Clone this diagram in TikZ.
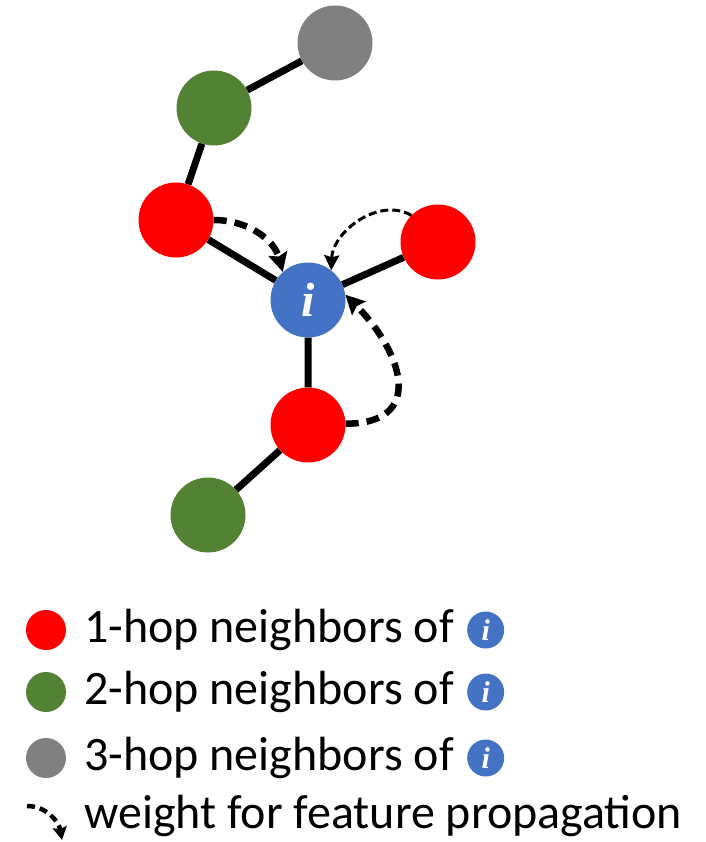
\documentclass[tikz,border=0pt]{standalone}
\usepackage{fontspec}
\setmainfont{Carlito}
\newfontfamily\ifont{Liberation Serif}
\usetikzlibrary{arrows.meta,positioning}

\definecolor{hopone}{HTML}{FF0000}
\definecolor{hoptwo}{HTML}{548235}
\definecolor{hopthree}{HTML}{808080}
\definecolor{center}{HTML}{4472C4}

\pgfmathsetmacro\rad{37.5}

\begin{document}
\begin{tikzpicture}[x=1pt,y=-1pt,
                vertex/.style={circle, inner sep=0pt, minimum size=2*\rad pt},
                edge/.style={line width=7pt},
                weight/.style={line width=6.5pt, dash pattern=on 13pt off 8pt,
                    -{Stealth[length=19pt,width=19pt,inset=3pt]}},
                dot/.style={circle, inner sep=0pt, minimum size=40pt},
                label/.style={anchor=west, inner sep=0pt, font=\fontsize{48}{48}\selectfont}]
                \useasboundingbox (0,0) rectangle (705,842);
                % graph around i
                \node [vertex, fill=center] (i) at (308,300)
                    {\color{white}\ifont\fontsize{48}{48}\selectfont\bfseries\itshape i};
                \node [vertex, fill=hopone] (a) at (176,220) {};
                \node [vertex, fill=hopone] (b) at (438,242) {};
                \node [vertex, fill=hopone] (c) at (308,425) {};
                \node [vertex, fill=hoptwo] (d) at (214,108) {};
                \node [vertex, fill=hoptwo] (e) at (208,515) {};
                \node [vertex, fill=hopthree] (f) at (335,43) {};
                \draw [edge] (f) -- (d) -- (a) -- (i) -- (b);
                \draw [edge] (i) -- (c) -- (e);
                % feature propagation weights
                \draw [weight] (a.east) to [out=0, in=105] (i.132);
                \draw [weight, line width=3pt, dash pattern=on 8pt off 4pt,
                    -{Stealth[length=15pt,width=15pt,inset=2pt]}]
                    (b.135) to [out=150, in=88] (i.52);
                \draw [weight] (c.2) to [out=0, in=-45, looseness=1.6] (i.8);
                % legend
                \node [dot, fill=hopone] (l1) at (46,630) {};
                \node [dot, fill=hoptwo] (l2) at (46,692) {};
                \node [dot, fill=hopthree] (l3) at (46,758) {};
                \coordinate (w1) at (27,806);
                \coordinate (w2) at (62,840);
                \draw [weight, line width=4.5pt, dash pattern=on 8pt off 5pt,
                    -{Stealth[length=13pt,width=14pt,inset=2pt]}] (w1) to [out=0, in=100] (w2);
                \foreach \n/\y/\k in {1/630/t1, 2/692/t2, 3/758/t3}
                    \node [label] (\k) at (84,\y) {\n-hop neighbors of};
                \foreach \k in {t1, t2, t3}
                    \node [circle, fill=center, inner sep=0pt, minimum size=37pt,
                        right=13pt of \k] {\color{white}\ifont\fontsize{30}{30}\selectfont\bfseries\itshape i};
                \node [label] (w) at (84,816) {weight for feature propagation};
            \end{tikzpicture}
\end{document}
